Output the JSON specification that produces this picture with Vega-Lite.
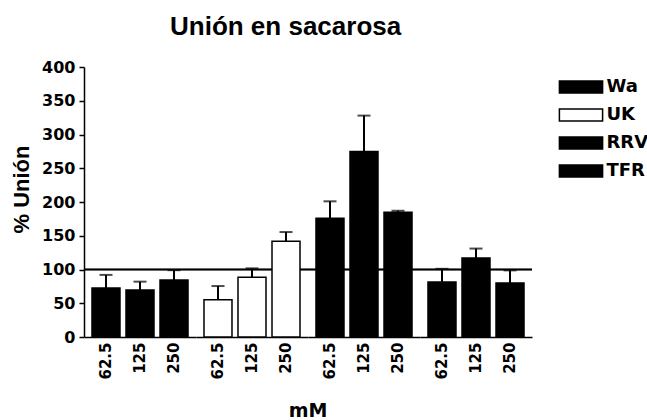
{
  "$schema": "https://vega.github.io/schema/vega-lite/v6.json",
  "padding": {"left": 10, "top": 14, "right": 0, "bottom": 0},
  "bounds": "flush",
  "title": {"text": "Unión en sacarosa", "anchor": "start", "frame": "group", "dx": 86, "fontSize": 26, "fontWeight": "bold", "font": "Liberation Sans", "offset": 19, "color": "black"},
  "data": {"values": [
    {"strain": "Wa", "conc": "62.5", "value": 72.6, "upper": 92},
    {"strain": "Wa", "conc": "125", "value": 69.6, "upper": 82},
    {"strain": "Wa", "conc": "250", "value": 84.4, "upper": 99},
    {"strain": "UK", "conc": "62.5", "value": 55.3, "upper": 75.5},
    {"strain": "UK", "conc": "125", "value": 88.4, "upper": 101.7},
    {"strain": "UK", "conc": "250", "value": 141.7, "upper": 155.5},
    {"strain": "RRV", "conc": "62.5", "value": 176, "upper": 201},
    {"strain": "RRV", "conc": "125", "value": 275, "upper": 328},
    {"strain": "RRV", "conc": "250", "value": 185, "upper": 187},
    {"strain": "TFR", "conc": "62.5", "value": 81.5, "upper": 101},
    {"strain": "TFR", "conc": "125", "value": 117, "upper": 131},
    {"strain": "TFR", "conc": "250", "value": 80, "upper": 98.7}
  ]},
  "facet": {"column": {"field": "strain", "type": "nominal", "sort": ["Wa", "UK", "RRV", "TFR"],
    "header": {"labels": false, "title": "mM", "titleOrient": "bottom", "titleFontSize": 19, "titleFontWeight": "bold", "titleFont": "DejaVu Sans", "titleColor": "black", "titlePadding": 12}}},
  "spacing": 0,
  "spec": {
    "width": 112,
    "height": 270,
    "layer": [
      {"mark": {"type": "rule", "color": "black", "strokeWidth": 1.5},
       "encoding": {"y": {"datum": 100, "type": "quantitative", "scale": {"domain": [0, 400]}, "title": "% Unión"}}},
      {"mark": {"type": "bar", "stroke": "black", "strokeWidth": 1.5},
       "encoding": {
         "x": {"field": "conc", "type": "ordinal", "sort": ["62.5", "125", "250"], "scale": {"paddingInner": 0.1765, "paddingOuter": 0.235}, "title": null,
           "axis": {"labelAngle": 270, "labelAlign": "right", "labelBaseline": "middle", "ticks": false, "labelFont": "DejaVu Sans", "labelFontSize": 15, "labelFontWeight": "bold", "labelPadding": 5, "domainColor": "black", "domainWidth": 1.5, "labelColor": "black"}},
         "y": {"field": "value", "type": "quantitative", "scale": {"domain": [0, 400]}, "title": "% Unión"},
         "fill": {"field": "strain", "type": "nominal", "scale": {"domain": ["Wa", "UK", "RRV", "TFR"], "range": ["black", "white", "black", "black"]},
           "legend": {"title": null, "orient": "none", "legendX": 484, "legendY": 7, "symbolType": "M-1.8,-0.5H1.8V0.5H-1.8Z", "symbolSize": 576, "symbolStrokeColor": "black", "symbolStrokeWidth": 1.5, "labelFont": "DejaVu Sans", "labelFontWeight": "bold", "labelFontSize": 18, "labelColor": "black", "labelOffset": 12.5, "rowPadding": 6}}
       }},
      {"mark": {"type": "rule", "color": "black", "strokeWidth": 2},
       "encoding": {"x": {"field": "conc", "type": "ordinal", "sort": ["62.5", "125", "250"]}, "y": {"field": "value", "type": "quantitative", "title": "% Unión"}, "y2": {"field": "upper"}}},
      {"mark": {"type": "tick", "color": "black", "thickness": 2, "size": 13},
       "encoding": {"x": {"field": "conc", "type": "ordinal", "sort": ["62.5", "125", "250"]}, "y": {"field": "upper", "type": "quantitative", "title": "% Unión"}}}
    ]
  },
  "config": {
    "font": "Liberation Sans",
    "view": {"stroke": null},
    "axisY": {"tickCount": 8, "labelOverlap": false, "grid": false, "tickSize": 5, "tickColor": "black", "tickWidth": 1.5, "domainColor": "black", "domainWidth": 1.5, "labelFont": "DejaVu Sans", "labelFontSize": 16, "labelFontWeight": "bold", "labelColor": "black", "labelPadding": 4, "titleFont": "Liberation Sans", "titleFontSize": 22, "titleFontWeight": "bold", "titleColor": "black", "titlePadding": 8, "titleY": 122}
  }
}
